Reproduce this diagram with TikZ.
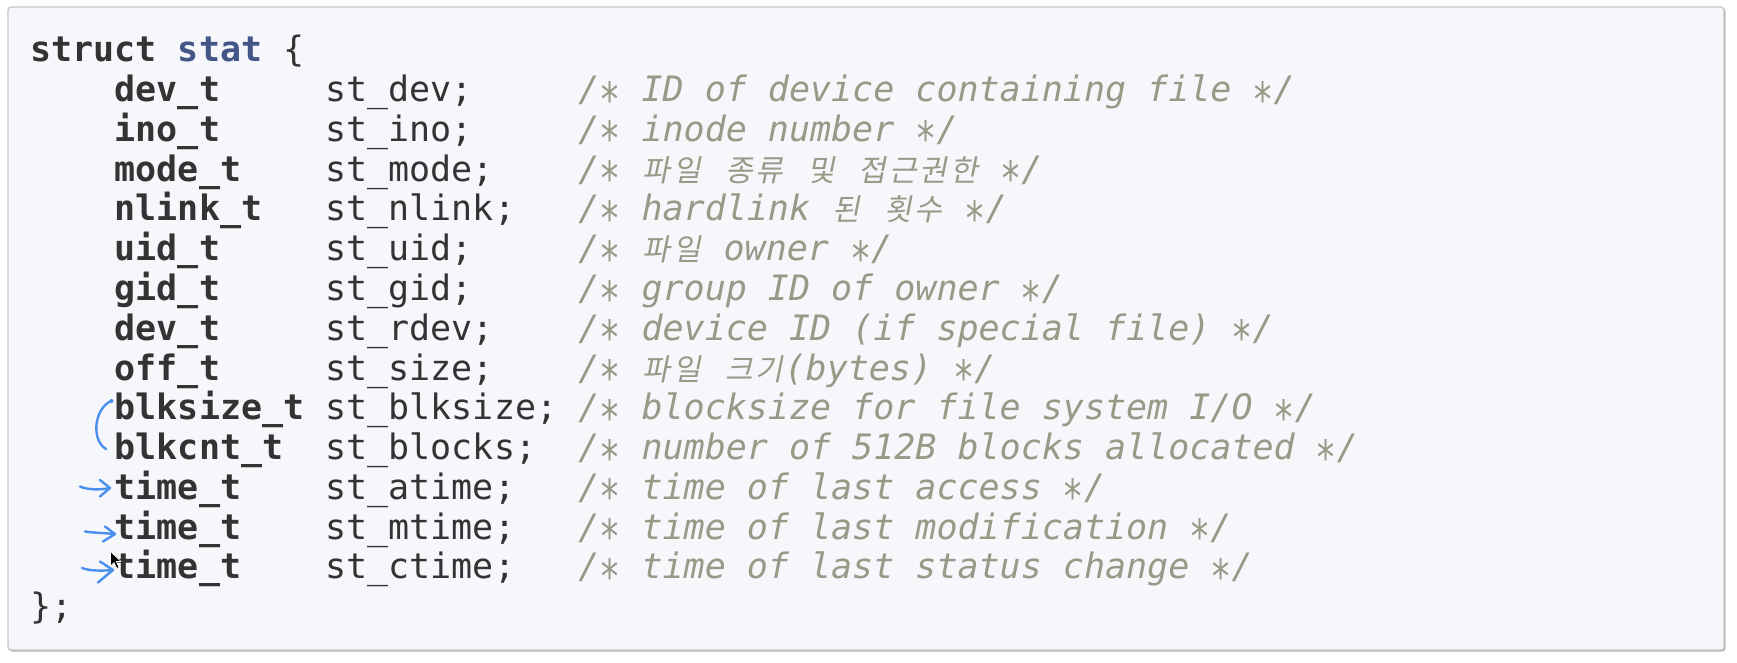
\documentclass[tikz,border=0pt]{standalone}
\usepackage{fontspec}
\usepackage{graphicx}
\newfontfamily\mono{DejaVu Sans Mono}
\newfontfamily\krfont[FakeSlant=0.2]{Noto Sans CJK KR}
\definecolor{codebg}{HTML}{F6F7FB}
\definecolor{codeborder}{HTML}{C6C6C8}
\definecolor{codeshadow}{HTML}{B8B8BC}
\definecolor{codetext}{HTML}{333333}
\definecolor{codecomment}{HTML}{999988}
\definecolor{codetitle}{HTML}{445588}
\definecolor{pen}{HTML}{4A8EEE}
\newcommand\hk[1]{\makebox[30.5pt][c]{\krfont\fontsize{30}{40}\selectfont #1}}
\newcommand\cstar{\makebox[21.07pt][c]{\raisebox{-14.5pt}{\scalebox{1.0}[1.35]{*}}}}
\newcommand\co{/\cstar}
\newcommand\cc{\cstar/}
\newcommand\cw{21.07}
\newcommand\xz{30.5}
\newcommand\codeln[4]{%
  \node[tyfont] (t#1) at ({\xz+4*\cw},{62+#1*39.75}) {#2};
  \node[nmfont] (n#1) at ({\xz+14*\cw},{62+#1*39.75}) {#3};
  \node[cmfont] (c#1) at ({\xz+26*\cw},{62+#1*39.75}) {#4};
}
\begin{document}
\begin{tikzpicture}[x=1pt,y=-1pt,
  code/.style={anchor=base west,inner sep=0pt,outer sep=0pt,
    font=\mono\fontsize{35}{40}\selectfont\frenchspacing,text=codetext},
  tyfont/.style={code,font=\mono\fontsize{35}{40}\selectfont\bfseries},
  nmfont/.style={code},
  cmfont/.style={code,font=\mono\fontsize{35}{40}\selectfont\itshape\frenchspacing,text=codecomment},
  penline/.style={draw=pen,line width=2.4pt,line cap=round,line join=round}]
\useasboundingbox (0,0) rectangle (1737,663);
\fill[white] (0,0) rectangle (1737,663);
\fill[codeshadow,rounded corners=3pt] (9,8) rectangle (1725.5,651.5);
\draw[codeborder,fill=codebg,line width=1.2pt,rounded corners=3pt] (8,7) rectangle (1724,650);
% first line
\node[tyfont] (kstruct) at ({\xz},62) {struct};
\node[tyfont,text=codetitle] (kstat) at ({\xz+7*\cw},62) {stat};
\node[code] (kopen) at ({\xz+12*\cw},62) {\{};
\codeln{1}{dev\_t}{st\_dev;}{\co{} ID of device containing file \cc}
\codeln{2}{ino\_t}{st\_ino;}{\co{} inode number \cc}
\codeln{3}{mode\_t}{st\_mode;}{\co{} \hk{파}\hk{일} \hk{종}\hk{류} \hk{및} \hk{접}\hk{근}\hk{권}\hk{한} \cc}
\codeln{4}{nlink\_t}{st\_nlink;}{\co{} hardlink \hk{된} \hk{횟}\hk{수} \cc}
\codeln{5}{uid\_t}{st\_uid;}{\co{} \hk{파}\hk{일} owner \cc}
\codeln{6}{gid\_t}{st\_gid;}{\co{} group ID of owner \cc}
\codeln{7}{dev\_t}{st\_rdev;}{\co{} device ID (if special file) \cc}
\codeln{8}{off\_t}{st\_size;}{\co{} \hk{파}\hk{일} \hk{크}\hk{기}(bytes) \cc}
\codeln{9}{blksize\_t}{st\_blksize;}{\co{} blocksize for file system I/O \cc}
\codeln{10}{blkcnt\_t}{st\_blocks;}{\co{} number of 512B blocks allocated \cc}
\codeln{11}{time\_t}{st\_atime;}{\co{} time of last access \cc}
\codeln{12}{time\_t}{st\_mtime;}{\co{} time of last modification \cc}
\codeln{13}{time\_t}{st\_ctime;}{\co{} time of last status change \cc}
\node[code] (kclose) at ({\xz},{62+14*39.75}) {\};};
% hand-drawn annotations
\coordinate (b1) at (111,401);
\coordinate (b2) at (106,449);
\draw[penline] (b1) .. controls (94,409) and (91,440) .. (b2);
\fill[pen] (111.5,401) circle (2pt);
% arrow atime
\coordinate (a1s) at (80,486.5);
\coordinate (a1e) at (110,488);
\draw[penline] (a1s) .. controls (88,490) and (100,490) .. (a1e);
\draw[penline] (100,480) -- (a1e) -- (100,496.5);
% arrow mtime
\coordinate (a2s) at (85,531.5);
\coordinate (a2e) at (115,534);
\draw[penline] (a2s) .. controls (95,533) and (105,533) .. (a2e);
\draw[penline] (105,526.5) -- (a2e) -- (103,541.5);
% arrow ctime
\coordinate (a3s) at (82,568);
\coordinate (a3e) at (113,570);
\draw[penline] (a3s) .. controls (90,571) and (102,571) .. (a3e);
\draw[penline] (100,561.5) -- (a3e) -- (98,582.5);
% mouse cursor
\filldraw[fill=black,draw=white,line width=0.6pt,line join=round]
  (110.5,551.5) -- (110.5,566) -- (114,562.5) -- (116.8,568.5) -- (119,567.5) -- (116.3,561.5) -- (121,561.5) -- cycle;
\end{tikzpicture}
\end{document}
